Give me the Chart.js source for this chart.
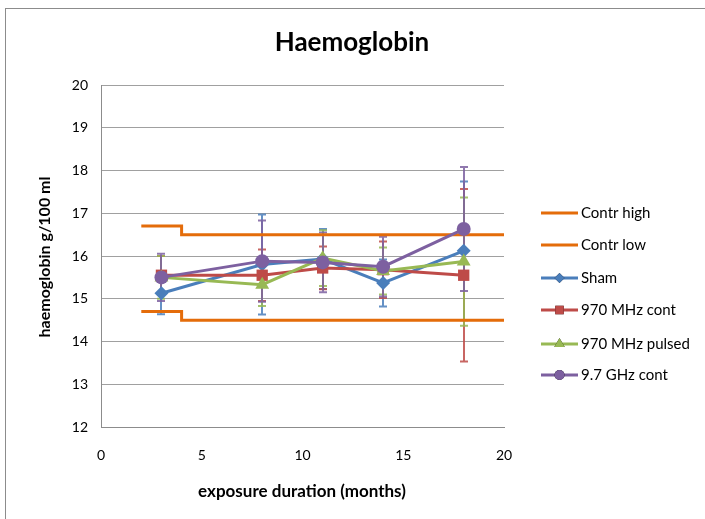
<!DOCTYPE html>
<html>
<head>
<meta charset="utf-8">
<title>Haemoglobin</title>
<script src="https://cdn.jsdelivr.net/npm/chart.js@4"></script>
<style>
  html, body { margin: 0; padding: 0; background: #fff; }
  #wrap { position: relative; width: 705px; height: 519px; }
</style>
</head>
<body>
<div id="wrap"><canvas id="hbChart" width="705" height="519"></canvas></div>
<script>
// exposure months
const months = [3, 8, 11, 14, 18];

// control band (step at 4 months)
const contrX = [2, 4, 4, 20];
const contrHigh = [16.7, 16.7, 16.5, 16.5];
const contrLow = [14.7, 14.7, 14.5, 14.5];

// group means and error bar half widths
const sham = [15.13, 15.8, 15.93, 15.37, 16.12];
const shamErr = [0.49, 1.17, 0.7, 0.55, 1.62];
const mhzCont = [15.55, 15.55, 15.72, 15.68, 15.55];
const mhzContErr = [0.45, 0.6, 0.5, 0.66, 2.02];
const mhzPulsed = [15.5, 15.33, 15.95, 15.65, 15.87];
const mhzPulsedErr = [0.5, 0.5, 0.65, 0.55, 1.5];
const ghzCont = [15.5, 15.88, 15.85, 15.75, 16.63];
const ghzContErr = [0.55, 0.95, 0.7, 0.7, 1.45];

const xTicks = [0, 5, 10, 15, 20];
const yTicks = [12, 13, 14, 15, 16, 17, 18, 19, 20];

const ORANGE = '#E46C0A';

function pts(xs, ys) {
    return xs.map((x, i) => ({ x: x, y: ys[i] }));
}

function series(label, ys, errs, color, style, radius, order) {
    return {
        label: label,
        data: pts(months, ys),
        errors: errs,
        borderColor: color,
        backgroundColor: color,
        borderWidth: 3,
        showLine: true,
        pointStyle: style,
        pointRadius: radius,
        pointBorderWidth: 0,
        order: order
    };
}

const datasets = [
    { label: 'Contr high', data: pts(contrX, contrHigh), borderColor: ORANGE, backgroundColor: ORANGE,
      borderWidth: 3, showLine: true, pointRadius: 0, order: 8 },
    { label: 'Contr low', data: pts(contrX, contrLow), borderColor: ORANGE, backgroundColor: ORANGE,
      borderWidth: 3, showLine: true, pointRadius: 0, order: 7 },
    series('Sham', sham, shamErr, '#4A7EBB', 'rectRot', 7, 6),
    series('970 MHz cont', mhzCont, mhzContErr, '#BE4B48', 'rect', 8, 5),
    series('970 MHz pulsed', mhzPulsed, mhzPulsedErr, '#98B954', 'triangle', 8, 4),
    series('9.7 GHz cont', ghzCont, ghzContErr, '#7D60A0', 'circle', 7, 3)
];

// error bars, title, axis titles, legend, frame
const decorPlugin = {
    id: 'decor',
    beforeDraw(chart) {
        const ctx = chart.ctx;
        ctx.save();
        ctx.fillStyle = '#fff';
        ctx.fillRect(0, 0, chart.width, chart.height);
        ctx.strokeStyle = '#8c8c8c';
        ctx.lineWidth = 1;
        ctx.strokeRect(5.5, 8.5, 900, 700);
        ctx.restore();
    },
    beforeDatasetsDraw(chart) {
        const ctx = chart.ctx;
        const xs = chart.scales.x, ys = chart.scales.y;
        ctx.save();
        chart.data.datasets.forEach(ds => {
            if (!ds.errors) return;
            ctx.strokeStyle = ds.borderColor;
            ctx.globalAlpha = 0.85;
            ctx.lineWidth = 2;
            ds.data.forEach((p, i) => {
                const px = Math.round(xs.getPixelForValue(p.x));
                const top = ys.getPixelForValue(p.y + ds.errors[i]);
                const bot = ys.getPixelForValue(p.y - ds.errors[i]);
                ctx.beginPath();
                ctx.moveTo(px, top);
                ctx.lineTo(px, bot);
                ctx.moveTo(px - 4, top);
                ctx.lineTo(px + 4, top);
                ctx.moveTo(px - 4, bot);
                ctx.lineTo(px + 4, bot);
                ctx.stroke();
            });
        });
        ctx.restore();
    },
    afterDraw(chart) {
        const ctx = chart.ctx;
        ctx.save();
        ctx.fillStyle = '#000';
        ctx.textAlign = 'center';
        ctx.textBaseline = 'middle';
        ctx.font = 'bold 26px Lato';
        ctx.fillText('Haemoglobin', 352, 43);
        ctx.font = 'bold 17px Lato';
        ctx.fillText('exposure duration (months)', 302, 492);
        ctx.font = 'bold 16px Lato';
        ctx.translate(45, 257);
        ctx.rotate(-Math.PI / 2);
        ctx.fillText('haemoglobin g/100 ml', 0, 0);
        ctx.restore();

        // legend
        const rows = [213, 245, 278, 310, 344, 375];
        ctx.save();
        chart.data.datasets.forEach((ds, i) => {
            const y = rows[i];
            ctx.strokeStyle = ds.borderColor;
            ctx.lineWidth = 3;
            ctx.beginPath();
            ctx.moveTo(541, y);
            ctx.lineTo(578, y);
            ctx.stroke();
            if (ds.pointRadius) {
                Chart.helpers.drawPoint(ctx, {
                    pointStyle: ds.pointStyle, radius: ds.pointRadius - 2, rotation: 0, borderWidth: 0
                }, 559.5, y);
                ctx.fillStyle = ds.backgroundColor;
                ctx.fill();
            }
            ctx.fillStyle = '#000';
            ctx.font = '15px Lato';
            ctx.textAlign = 'left';
            ctx.textBaseline = 'middle';
            ctx.fillText(ds.label, 581, y);
        });
        ctx.restore();
    }
};

function buildChart() {
    Chart.defaults.font.family = 'Lato';
    Chart.defaults.color = '#000';

    new Chart(document.getElementById('hbChart'), {
        type: 'scatter',
        data: { datasets: datasets },
        options: {
            responsive: false,
            animation: false,
            layout: { padding: { left: 0, top: 85, right: 201, bottom: 0 } },
            plugins: {
                legend: { display: false },
                tooltip: { enabled: false }
            },
            scales: {
                x: {
                    type: 'linear',
                    min: 0,
                    max: 20,
                    afterBuildTicks: s => { s.ticks = xTicks.map(v => ({ value: v })); },
                    afterFit: s => { s.height = 92; },
                    grid: { display: false, drawTicks: false },
                    border: { display: true, color: '#8c8c8c', width: 1 },
                    ticks: { padding: 20, font: { size: 14 }, maxRotation: 0 }
                },
                y: {
                    type: 'linear',
                    min: 12,
                    max: 20,
                    afterBuildTicks: s => { s.ticks = yTicks.map(v => ({ value: v })); },
                    afterFit: s => { s.width = 101; },
                    grid: { color: '#a0a0a0', lineWidth: 1, drawTicks: false },
                    border: { display: true, color: '#8c8c8c', width: 1 },
                    ticks: { padding: 13, font: { size: 14 } }
                }
            }
        },
        plugins: [decorPlugin]
    });
}

document.fonts.load('14px Lato').then(() => document.fonts.load('bold 14px Lato')).then(buildChart, buildChart);
</script>
</body>
</html>
